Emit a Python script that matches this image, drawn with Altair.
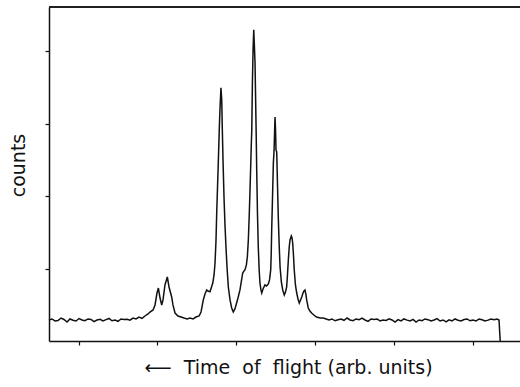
import altair as alt
import pandas as pd

# Time-of-flight spectrum: channel number (arbitrary units) and counts per channel
tof = [
    0.0, 3.0, 6.1, 9.1, 12.2, 15.2, 18.3, 21.3, 24.4, 27.4, 30.5, 33.5, 36.5, 39.6,
    42.6, 45.7, 48.7, 51.8, 54.8, 57.9, 60.9, 63.9, 67.0, 70.0, 73.1, 76.1, 79.2,
    82.2, 85.3, 88.3, 91.4, 94.4, 97.4, 100.5, 102.5, 105.6, 107.6, 109.6, 111.0,
    112.7, 114.4, 115.7, 117.7, 120.1, 121.8, 124.5, 125.8, 127.9, 130.9, 134.0,
    137.0, 140.1, 143.1, 146.2, 149.2, 152.3, 154.3, 156.6, 158.3, 160.1, 161.4,
    163.4, 166.2, 167.5, 168.5, 169.5, 170.2, 171.0, 171.8, 172.8, 173.5, 174.5,
    175.3, 175.9, 176.6, 177.6, 178.6, 179.6, 180.7, 182.0, 183.7, 185.4, 187.0,
    188.7, 190.4, 191.8, 193.8, 196.6, 197.9, 198.9, 200.3, 201.3, 202.3, 203.3,
    204.0, 204.8, 205.3, 205.8, 206.4, 207.1, 207.8, 208.4, 209.1, 209.7, 210.2,
    210.8, 211.6, 212.4, 213.3, 214.1, 215.1, 215.9, 217.2, 219.2, 220.8, 222.6,
    223.8, 225.0, 225.5, 226.0, 226.9, 227.7, 228.4, 229.0, 229.4, 229.9, 230.4,
    231.1, 231.9, 232.7, 233.6, 234.5, 235.8, 237.2, 238.8, 240.0, 241.2, 242.0,
    242.9, 243.8, 244.6, 245.9, 246.7, 247.3, 248.1, 248.9, 250.1, 251.4, 252.7,
    254.0, 255.3, 256.5, 257.8, 258.8, 259.8, 260.8, 261.5, 263.1, 264.8, 266.5,
    268.8, 271.5, 275.1, 278.4, 281.2, 284.2, 287.2, 290.3, 293.3, 296.4, 299.4,
    302.5, 305.5, 308.6, 311.6, 314.7, 317.7, 320.7, 323.8, 326.8, 329.9, 332.9,
    336.0, 339.0, 342.1, 345.1, 348.1, 351.2, 354.2, 357.3, 360.3, 363.4, 366.4,
    369.5, 372.5, 375.6, 378.6, 381.6, 384.7, 387.7, 390.8, 393.8, 396.9, 399.9,
    403.0, 406.0, 409.0, 412.1, 415.1, 418.2, 421.2, 424.3, 427.3, 430.3, 433.4,
    436.5, 439.5, 442.5, 445.6, 448.6, 451.7, 454.7, 456.7, 457.9,
]
counts = [
    290, 304, 276, 283, 317, 297, 262, 304, 286, 276, 310, 290, 280, 304,
    297, 268, 290, 300, 276, 294, 311, 279, 290, 272, 304, 296, 300,
    287, 317, 304, 331, 312, 345, 373, 400, 428, 497, 662, 731,
    593, 497, 566, 773, 883, 745, 607, 497, 386, 345, 331,
    317, 304, 317, 304, 331, 345, 400, 566, 649, 704, 690,
    680, 800, 911, 1076, 1394, 1766, 2111, 2456, 2912, 3188, 3491,
    3326, 2912, 2498, 1987, 1601, 1297, 1007, 745, 566, 455, 400,
    442, 524, 593, 704, 938, 966, 980, 1049, 1159, 1394, 1766,
    2084, 2456, 2705, 2912, 3533, 4016, 4292, 4085, 3836, 3326, 2912,
    2360, 1739, 1297, 980, 800, 704, 662, 718, 773, 759, 787,
    842, 980, 1187, 1532, 2015, 2456, 2622, 2912, 3091, 2912, 2636,
    2608, 2153, 1711, 1325, 1021, 814, 704, 635, 676, 745, 911,
    1118, 1297, 1394, 1449, 1421, 1352, 1187, 980, 773, 662, 580,
    524, 566, 607, 662, 690, 704, 635, 566, 455, 414, 386,
    359, 331, 317, 317, 304, 290, 304, 279, 293, 304, 286,
    317, 290, 280, 304, 294, 317, 290, 271, 304, 297, 304,
    276, 290, 283, 307, 290, 262, 295, 276, 304, 288, 276,
    298, 262, 290, 281, 304, 294, 276, 290, 308, 276, 290,
    265, 293, 276, 304, 286, 276, 297, 304, 279, 290, 276,
    304, 292, 276, 288, 304, 293, 304, 290, 0,
]

x_ticks = [30, 110, 190, 270, 350, 430]
y_ticks = [1000, 2000, 3000, 4000]
x_domain = [0, 478]
y_domain = [0, 4607]

df = pd.DataFrame({"tof": tof, "counts": counts})

W, H = 471, 334
FONT = "DejaVu Sans"
NB = "\u00a0"
X_TITLE = f"⟵{NB}{NB}Time{NB}{NB}of{NB}{NB}flight (arb. units)"

trace = alt.Chart(df).mark_line(color="#111111", strokeWidth=1.5, interpolate="linear").encode(
    x=alt.X(
        "tof:Q",
        scale=alt.Scale(domain=x_domain, nice=False, zero=False),
        axis=alt.Axis(
            values=x_ticks,
            labels=False,
            grid=False,
            title=X_TITLE,
            titleFont=FONT,
            titleFontSize=19,
            titleFontWeight="normal",
            titleColor="#111111",
            titleX=239,
            titleY=32,
            titleAlign="center",
            titleBaseline="alphabetic",
        ),
    ),
    y=alt.Y(
        "counts:Q",
        scale=alt.Scale(domain=y_domain, nice=False),
        axis=alt.Axis(
            values=y_ticks,
            labels=False,
            grid=False,
            title="counts",
            titleFont=FONT,
            titleFontSize=19,
            titleFontWeight="normal",
            titleColor="#111111",
            titleAngle=270,
            titleX=-25,
            titleY=158,
            titleAlign="center",
            titleBaseline="alphabetic",
        ),
    ),
)

# upper frame line
top_line = alt.Chart(df).mark_rule(color="#222222", strokeWidth=1.5).encode(
    x=alt.value(0), x2=alt.value(W), y=alt.value(0)
)

chart = (
    alt.layer(trace, top_line)
    .properties(
        width=W,
        height=H,
        padding={"left": 49, "top": 7, "right": 0, "bottom": 46},
        autosize=alt.AutoSizeParams(type="none"),
        background="white",
    )
    .configure_view(strokeWidth=0)
    .configure_axis(
        domainColor="#111111",
        domainWidth=1.5,
        tickColor="#111111",
        tickSize=4,
        tickWidth=1.2,
    )
)

chart.save("out.html", embed_options={"renderer": "svg", "actions": False})
